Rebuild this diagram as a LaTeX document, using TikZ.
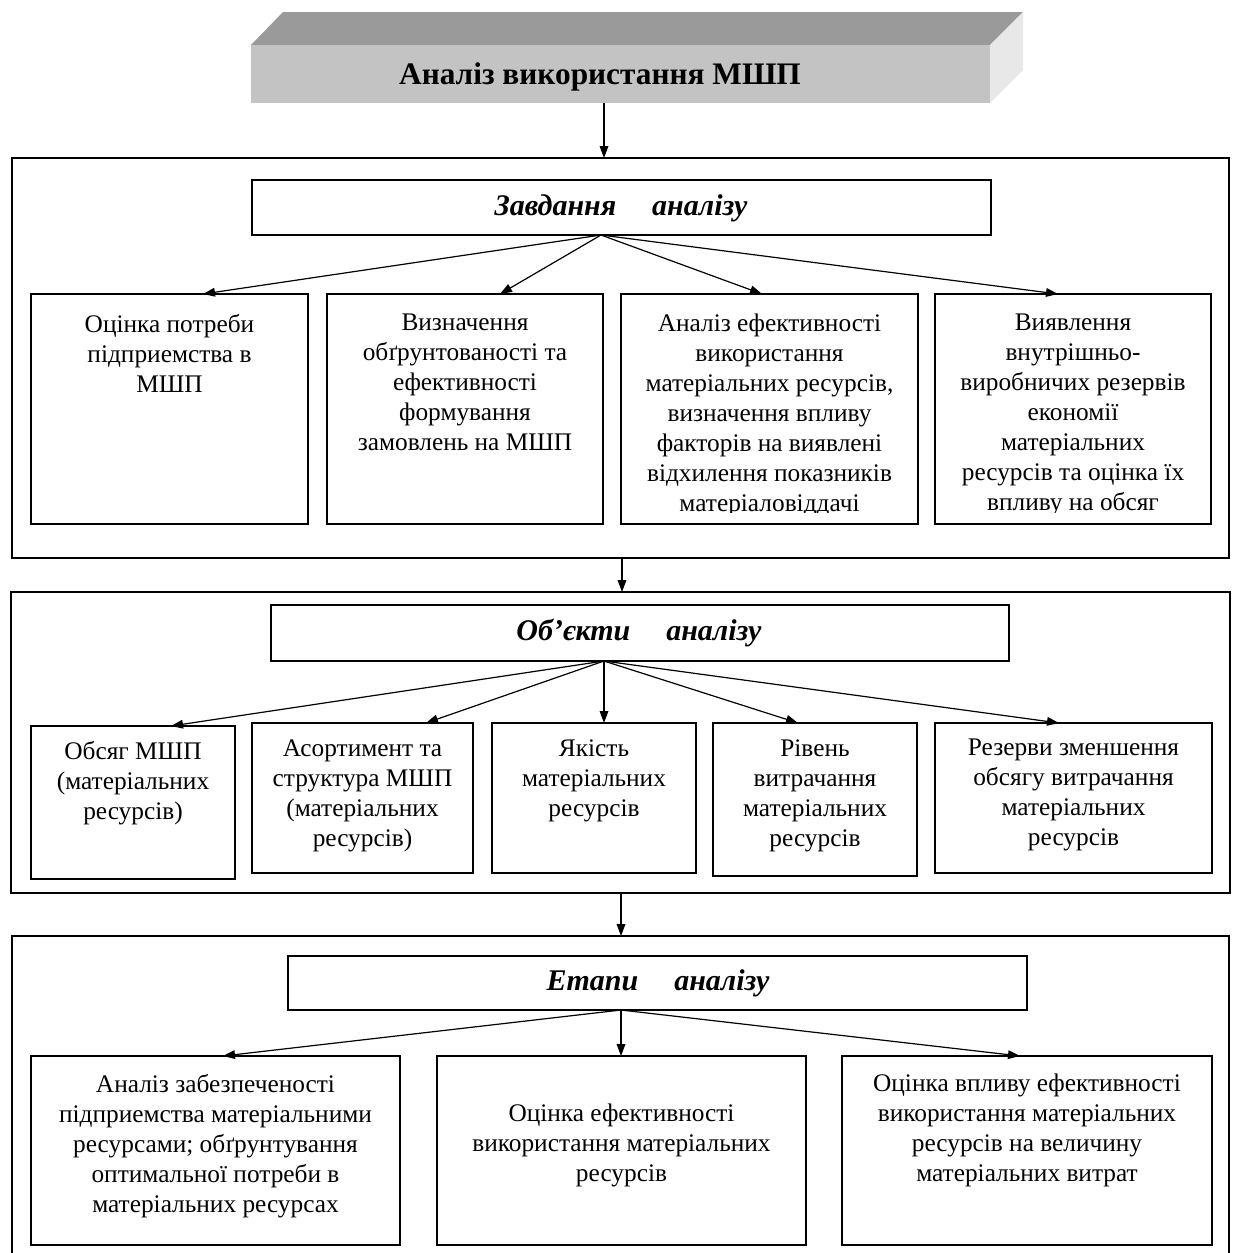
\documentclass[tikz,border=0pt]{standalone}
\usepackage{fontspec}
\setmainfont{Liberation Serif}
\usetikzlibrary{arrows.meta,fit}
\definecolor{topgray}{HTML}{9A9A9A}
\definecolor{frontgray}{HTML}{C3C3C3}
\definecolor{sidegray}{HTML}{E8E8E8}
\tikzset{
  arr/.style={-{Triangle[length=9pt,width=6.5pt]}, line width=0.9pt},
  frame/.style={draw, line width=1.3pt, inner sep=0pt},
  bx/.style={draw, line width=1.1pt, inner sep=0pt},
  hdrtxt/.style={inner sep=0pt, font=\fontsize{22.5}{26}\selectfont\bfseries\itshape},
  txt/.style={align=center, inner sep=0pt, anchor=north, font=\fontsize{19}{22.5}\selectfont},
}
\begin{document}
\begin{tikzpicture}[x=0.75pt,y=-0.75pt]
\useasboundingbox (0,0) rectangle (1232,1253);
% ---- 3D title block
\fill[topgray] (251,45) -- (283,12) -- (1023,12) -- (990,45) -- cycle;
\fill[sidegray] (990,45) -- (1023,12) -- (1023,70) -- (990,103) -- cycle;
\node[fit={(251,45)(990,103)}, inner sep=0pt, fill=frontgray] (tf) {};
\node[font=\fontsize{23.5}{28}\selectfont\bfseries] (tt) at (600,77) {Аналіз використання МШП};
\coordinate (tfo) at (604,103);

% ---- Section 1
\node[frame, fit={(12,158)(1229,558)}] (s1) {};
\coordinate (s1in) at (604,158);
\draw[arr] (tfo) -- (s1in);
\node[bx, fit={(252,180)(991,235)}] (zh) {};
\node[hdrtxt] (zht) at (621,208) {Завдання\hspace{27pt}аналізу};
\coordinate (zo) at (601,235);
\node[bx, fit={(31,294)(308,524)}] (t1) {};
\node[bx, fit={(327,294)(603,524)}] (t2) {};
\node[bx, fit={(621,294)(918,524)}] (t3) {};
\node[bx, fit={(935,294)(1211,524)}] (t4) {};
\coordinate (t1in) at (203,294);
\coordinate (t2in) at (500,294);
\coordinate (t3in) at (762,294);
\coordinate (t4in) at (1058,294);
\draw[arr] (zo) -- (t1in);
\draw[arr] (zo) -- (t2in);
\draw[arr] (zo) -- (t3in);
\draw[arr] (zo) -- (t4in);
\node[txt] (t1t) at (169.5,314) {Оцінка потреби\\підприемства в\\МШП};
\node[txt] (t2t) at (465,314) {Визначення\\обґрунтованості та\\ефективності\\формування\\замовлень на МШП};
\begin{scope}
\clip (621,294) rectangle (1211,512);
\node[txt] (t3t) at (769.5,314) {Аналіз ефективності\\використання\\матеріальних ресурсів,\\визначення впливу\\факторів на виявлені\\відхилення показників\\матеріаловіддачі};
\node[txt] (t4t) at (1073,314) {Виявлення\\внутрішньо-\\виробничих резервів\\економії\\матеріальних\\ресурсів та оцінка їх\\впливу на обсяг};
\end{scope}

% ---- Section 2
\coordinate (s1o) at (622,558);
\node[frame, fit={(11,592)(1230,893)}] (s2) {};
\coordinate (s2in) at (622,592);
\draw[arr] (s1o) -- (s2in);
\node[bx, fit={(271,605)(1009,661)}] (oh) {};
\node[hdrtxt] (oht) at (639,633) {Об'єкти\hspace{27pt}аналізу};
\coordinate (oo) at (604,661);
\node[bx, fit={(31,726)(235,879)}] (o1) {};
\node[bx, fit={(252,723)(473,873)}] (o2) {};
\node[bx, fit={(492,723)(696,873)}] (o3) {};
\node[bx, fit={(713,723)(917,876)}] (o4) {};
\node[bx, fit={(935,723)(1212,873)}] (o5) {};
\coordinate (o1in) at (171,726);
\coordinate (o2in) at (426,723);
\coordinate (o3in) at (604,723);
\coordinate (o4in) at (798,723);
\coordinate (o5in) at (1059,723);
\draw[arr] (oo) -- (o1in);
\draw[arr] (oo) -- (o2in);
\draw[arr] (oo) -- (o3in);
\draw[arr] (oo) -- (o4in);
\draw[arr] (oo) -- (o5in);
\node[txt] (o1t) at (133,741) {Обсяг МШП\\(матеріальних\\ресурсів)};
\node[txt] (o2t) at (362.5,739) {Асортимент та\\структура МШП\\(матеріальних\\ресурсів)};
\node[txt] (o3t) at (594,739) {Якість\\матеріальних\\ресурсів};
\node[txt] (o4t) at (815,739) {Рівень\\витрачання\\матеріальних\\ресурсів};
\node[txt] (o5t) at (1073.5,739) {Резерви зменшення\\обсягу витрачання\\матеріальних\\ресурсів};

% ---- Section 3
\coordinate (s2o) at (621,893);
\draw[line width=1.3pt] (12,1262) -- (12,936) -- (1229,936) -- (1229,1262);
\coordinate (s3in) at (621,936);
\draw[arr] (s2o) -- (s3in);
\node[bx, fit={(288,956)(1027,1010)}] (eh) {};
\node[hdrtxt] (eht) at (658,983) {Етапи\hspace{27pt}аналізу};
\coordinate (eo) at (621,1010);
\node[bx, fit={(31,1056)(400,1245)}] (e1) {};
\node[bx, fit={(437,1056)(806,1245)}] (e2) {};
\node[bx, fit={(842,1056)(1212,1245)}] (e3) {};
\coordinate (e1in) at (223,1056);
\coordinate (e2in) at (621,1056);
\coordinate (e3in) at (1020,1056);
\draw[arr] (eo) -- (e1in);
\draw[arr] (eo) -- (e2in);
\draw[arr] (eo) -- (e3in);
\node[txt] (e1t) at (215.5,1074) {Аналіз забезпеченості\\підприемства матеріальними\\ресурсами; обґрунтування\\оптимальної потреби в\\матеріальних ресурсах};
\node[txt] (e2t) at (621.5,1104) {Оцінка ефективності\\використання матеріальних\\ресурсів};
\node[txt] (e3t) at (1027,1074) {Оцінка впливу ефективності\\використання матеріальних\\ресурсів на величину\\матеріальних витрат};
\end{tikzpicture}
\end{document}
